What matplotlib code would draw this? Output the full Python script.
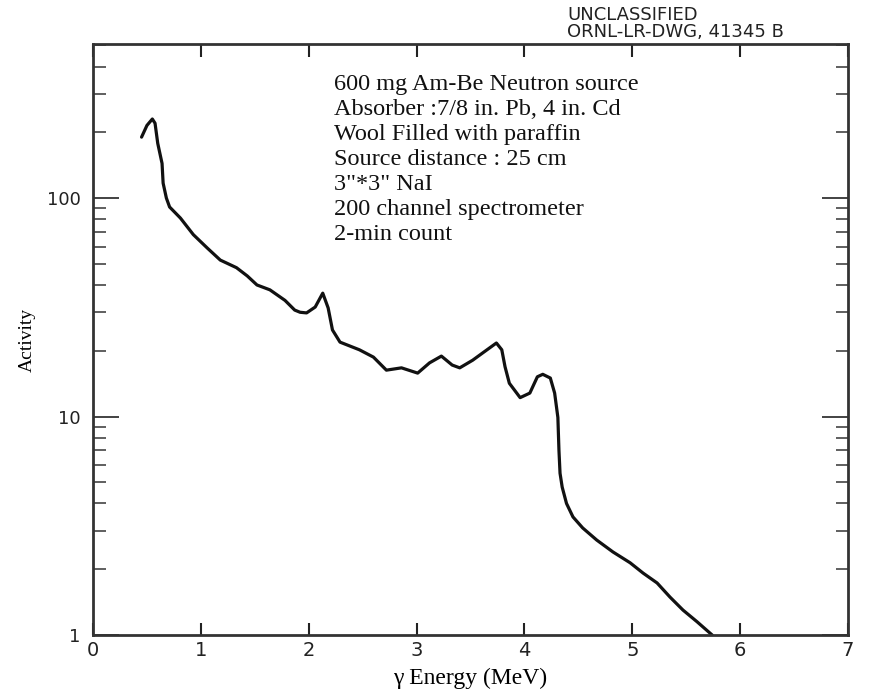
import matplotlib
matplotlib.use('Agg')
import matplotlib.pyplot as plt
from matplotlib.ticker import LogLocator, FixedLocator, FixedFormatter, NullFormatter

# gamma spectrum
energy = [0.45, 0.50, 0.55, 0.575, 0.60, 0.64, 0.65, 0.68, 0.71, 0.81, 0.93,
          1.06, 1.18, 1.33, 1.43, 1.52, 1.64, 1.78, 1.87, 1.92, 1.98, 2.06,
          2.13, 2.18, 2.22, 2.29, 2.47, 2.60, 2.72, 2.86, 3.01, 3.12, 3.23,
          3.33, 3.40, 3.52, 3.61, 3.74, 3.79, 3.82, 3.86, 3.96, 4.05, 4.12,
          4.17, 4.24, 4.28, 4.31, 4.32, 4.33, 4.35, 4.39, 4.45, 4.54, 4.67,
          4.82, 4.98, 5.10, 5.23, 5.35, 5.47, 5.60, 5.74]
activity = [190, 215, 230, 220, 178, 144, 117, 100, 91, 81, 68,
            59, 52, 48, 44, 40, 38, 34, 30.7, 30, 29.8, 31.7,
            36.7, 31.4, 24.9, 21.9, 20.2, 18.7, 16.3, 16.7, 15.8, 17.6, 18.9,
            17.2, 16.7, 18.1, 19.5, 21.7, 20.2, 16.9, 14.2, 12.2, 12.8, 15.2,
            15.6, 15.0, 12.8, 9.9, 7.0, 5.5, 4.75, 4.0, 3.47, 3.09, 2.72,
            2.40, 2.14, 1.92, 1.73, 1.49, 1.30, 1.15, 1.0]

y_ticks = [1, 10, 100]
y_labels = ['1', '10', '100']

notes = ["600 mg Am-Be Neutron source",
         "Absorber :7/8 in. Pb, 4 in. Cd",
         "Wool Filled with paraffin",
         "Source distance : 25 cm",
         "3\"*3\" NaI",
         "200 channel spectrometer",
         "2-min count"]
stamp = ["UNCLASSIFIED", "ORNL-LR-DWG, 41345 B"]

fig = plt.figure(figsize=(8.71, 6.92), dpi=100)
ax = fig.add_axes([0.1068, 0.0824, 0.8668, 0.854])

ax.plot(energy, activity, color='#111111', lw=2.3, solid_capstyle='round',
        solid_joinstyle='round')

ax.set_yscale('log')
ax.set_xlim(0, 7)
ax.set_ylim(1, 507)

ax.xaxis.set_major_locator(FixedLocator(range(0, 8)))
ax.yaxis.set_major_locator(FixedLocator(y_ticks))
ax.yaxis.set_major_formatter(FixedFormatter(y_labels))
ax.yaxis.set_minor_locator(LogLocator(base=10, subs=range(2, 10)))
ax.yaxis.set_minor_formatter(NullFormatter())

ax.tick_params(axis='x', direction='in', length=9, width=1.5, top=True,
               labelsize=14, pad=4, colors='#222222')
ax.tick_params(axis='y', which='major', direction='in', length=19, width=1.2,
               right=True, labelsize=13, pad=9, colors='#222222')
ax.tick_params(axis='y', which='minor', direction='in', length=9, width=1.2,
               right=True, colors='#444444')

for s in ax.spines.values():
    s.set_linewidth(2)
    s.set_color('#333333')

ax.set_xlabel('γ Energy (MeV)', family='Liberation Serif', fontsize=17, labelpad=6)
ax.set_ylabel('Activity', family='Liberation Serif', fontsize=14, labelpad=8)

fig.text(0.383, 1 - 74 / 692, "\n".join(notes), family='Liberation Serif',
         fontsize=17.5, va='top', ha='left', linespacing=1.25, color='#111111')

fig.text(0.651, 1 - 6 / 692, "\n".join(stamp), family='DejaVu Sans',
         fontsize=13, va='top', ha='left', linespacing=0.9, color='#222222')

fig.savefig('out.png', dpi=100)
